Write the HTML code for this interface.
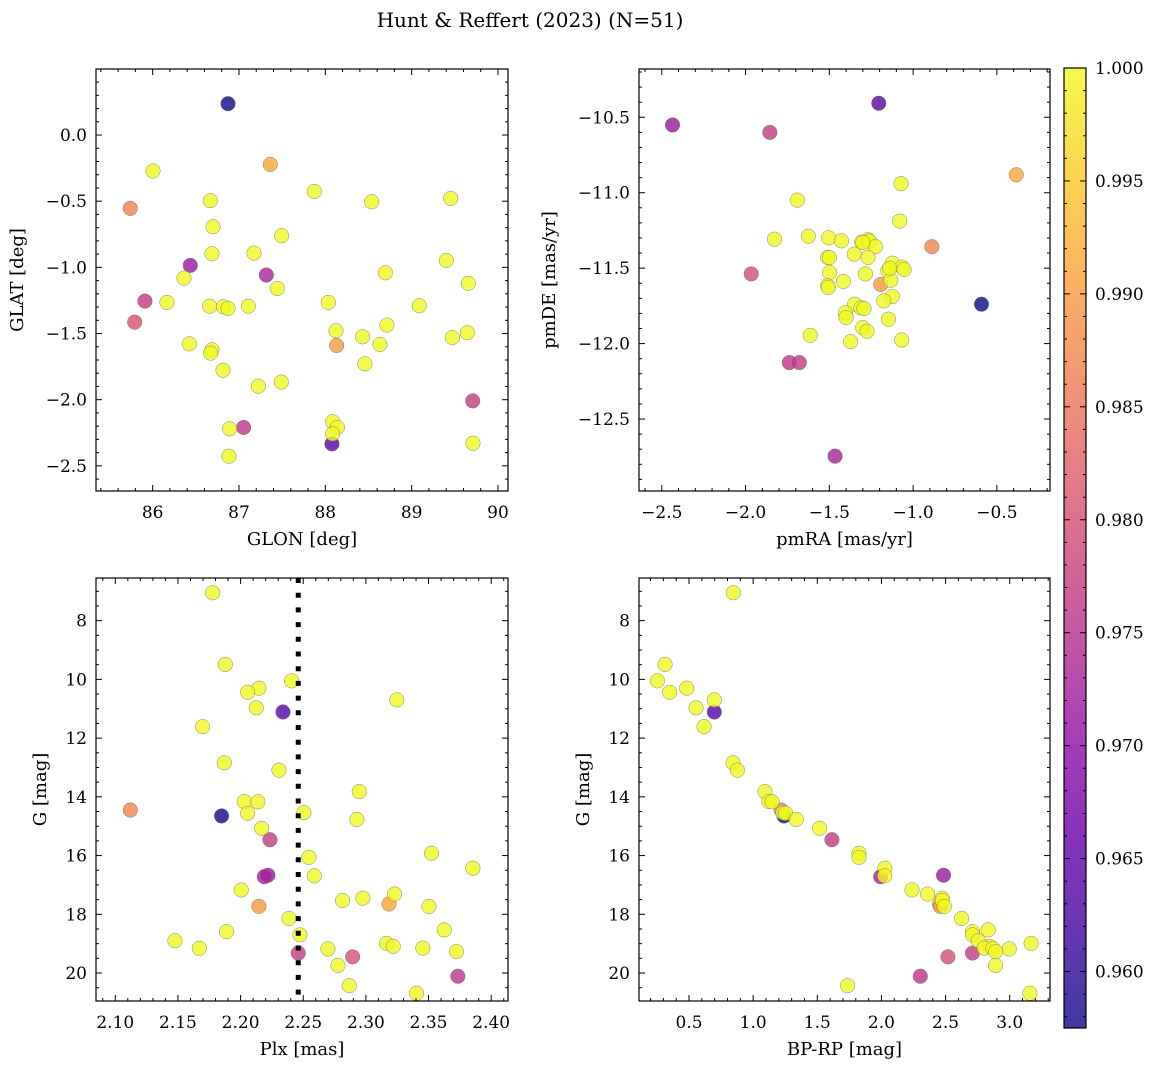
<!DOCTYPE html>
<html><head><meta charset="utf-8"><style>
html,body{margin:0;padding:0;background:#fff;}
svg{display:block;font-family:"DejaVu Serif","Liberation Serif",serif;}
</style></head><body>
<svg id="fig" width="1161" height="1068" viewBox="0 0 1161 1068" xmlns="http://www.w3.org/2000/svg">
<defs>
<linearGradient id="plasma" x1="0" y1="1" x2="0" y2="0">
<stop offset="0" stop-color="#0d0887"/><stop offset="0.1" stop-color="#41049d"/><stop offset="0.2" stop-color="#6a00a8"/><stop offset="0.3" stop-color="#8f0da4"/><stop offset="0.4" stop-color="#b12a90"/><stop offset="0.5" stop-color="#cc4778"/><stop offset="0.6" stop-color="#e16462"/><stop offset="0.7" stop-color="#f2844b"/><stop offset="0.8" stop-color="#fca636"/><stop offset="0.9" stop-color="#fcce25"/><stop offset="1" stop-color="#f0f921"/>
</linearGradient>
</defs>
<text x="530" y="27" font-size="20" text-anchor="middle">Hunt &amp; Reffert (2023) (N=51)</text>
</svg>
<script>
// per-star data
const prob = [0.9575,0.964,0.9715,0.973,0.977,0.980,0.976,0.977,0.9915,0.987,0.990,
 1,1,1,1,1,1,1,1,1,1,1,1,1,1,1,1,1,1,1,1,1,1,1,1,1,1,1,1,1,1,1,1,1,1,1,1,1,1,1,1];
const glon = [86.873,88.077,86.436,87.317,85.911,85.792,87.054,89.707,87.363,85.741,88.131,
 86.004,87.873,88.537,89.452,86.668,86.699,87.494,86.687,87.174,89.402,88.695,86.363,87.444,89.656,86.166,86.660,86.819,86.873,87.108,88.035,89.089,88.124,88.714,88.432,89.645,89.471,88.633,86.425,86.687,86.672,88.459,86.815,87.224,87.490,88.085,88.139,88.085,86.892,89.710,86.884];
const glat = [0.237,-2.334,-0.985,-1.058,-1.255,-1.414,-2.210,-2.009,-0.222,-0.554,-1.590,
 -0.272,-0.426,-0.504,-0.479,-0.496,-0.693,-0.761,-0.897,-0.892,-0.948,-1.041,-1.081,-1.159,-1.121,-1.265,-1.293,-1.298,-1.310,-1.293,-1.265,-1.290,-1.479,-1.436,-1.525,-1.494,-1.530,-1.583,-1.578,-1.623,-1.648,-1.729,-1.777,-1.898,-1.867,-2.167,-2.210,-2.258,-2.220,-2.329,-2.427];
const pmra = [-0.592,-1.205,-2.436,-1.466,-1.855,-1.966,-1.739,-1.679,-0.384,-0.888,-1.193,
 -1.072,-1.691,-1.080,-1.827,-1.625,-1.504,-1.428,-1.307,-1.269,-1.261,-1.225,-1.351,-1.269,-1.510,-1.124,-1.151,-1.066,-1.054,-1.498,-1.285,-1.133,-1.416,-1.510,-1.506,-1.124,-1.175,-1.349,-1.311,-1.293,-1.404,-1.400,-1.147,-1.301,-1.275,-1.614,-1.373,-1.068,-1.30,-1.50,-1.14];
const pmde = [-11.739,-10.407,-10.551,-12.746,-10.600,-11.538,-12.126,-12.126,-10.881,-11.358,-11.608,
 -10.940,-11.049,-11.188,-11.308,-11.288,-11.299,-11.319,-11.327,-11.312,-11.321,-11.358,-11.407,-11.429,-11.429,-11.467,-11.515,-11.493,-11.509,-11.529,-11.538,-11.580,-11.588,-11.617,-11.628,-11.688,-11.717,-11.739,-11.763,-11.768,-11.796,-11.827,-11.838,-11.894,-11.918,-11.945,-11.987,-11.976,-11.33,-11.43,-11.50];
const plx = [2.1848,2.2338,2.2218,2.2189,2.2234,2.2894,2.3734,2.2460,2.3184,2.1120,2.2146,
 2.1777,2.1878,2.2407,2.2146,2.2056,2.3247,2.2125,2.1697,2.1870,2.2306,2.2947,2.2029,2.2138,2.2505,2.2056,2.2928,2.2168,2.3524,2.2545,2.3854,2.2588,2.2005,2.3229,2.2976,2.2814,2.3503,2.2386,2.3625,2.1888,2.2473,2.1476,2.3165,2.3218,2.3455,2.1670,2.2697,2.3723,2.2777,2.2867,2.3404];
const gmag = [14.65,11.11,16.67,16.72,15.46,19.45,20.11,19.32,17.65,14.45,17.73,
 7.05,9.49,10.05,10.30,10.44,10.70,10.97,11.61,12.84,13.09,13.82,14.16,14.17,14.54,14.56,14.77,15.07,15.92,16.06,16.43,16.69,17.17,17.31,17.45,17.53,17.73,18.14,18.53,18.59,18.70,18.90,18.99,19.09,19.15,19.16,19.18,19.27,19.74,20.43,20.69];
const bprp = [1.240,0.697,2.484,1.994,1.614,2.518,2.303,2.710,2.453,1.219,2.46,
 0.845,0.313,0.253,0.482,0.349,0.697,0.555,0.617,0.843,0.877,1.092,1.123,1.148,1.232,1.253,1.336,1.518,1.825,1.825,2.027,2.025,2.238,2.360,2.474,2.474,2.490,2.625,2.832,2.710,2.710,2.755,3.167,2.843,2.801,2.869,2.996,2.890,2.890,1.736,3.157];
const plxMean = [2.246];
const cbTicks = [0.960,0.965,0.970,0.975,0.980,0.985,0.990,0.995,1.000];
const vmin = 0.9575, vmax = 1.0;

const NS = "http://www.w3.org/2000/svg";
const svg = document.getElementById('fig');
function mk(tag, attrs, parent){const e=document.createElementNS(NS,tag);for(const k in attrs)e.setAttribute(k,attrs[k]);(parent||svg).appendChild(e);return e;}
const stops=[[13,8,135],[65,4,157],[106,0,168],[143,13,164],[177,42,144],[204,71,120],[225,100,98],[242,132,75],[252,166,54],[252,206,37],[240,249,33]];
function plasma(v){let t=(v-vmin)/(vmax-vmin);t=Math.max(0,Math.min(1,t))*10;const i=Math.min(9,Math.floor(t)),f=t-i;const a=stops[i],b=stops[i+1];return `rgb(${Math.round(a[0]+(b[0]-a[0])*f)},${Math.round(a[1]+(b[1]-a[1])*f)},${Math.round(a[2]+(b[2]-a[2])*f)})`;}
function fmt(v,d){return (v<0?'\u2212':'')+Math.abs(v).toFixed(d);}

function panel(o){
  const g=mk('g',{});
  
  
  const sx=v=>o.x0+(v-o.xd[0])/(o.xd[1]-o.xd[0])*(o.x1-o.x0);
  const sy=v=>o.y0+(v-o.yd[0])/(o.yd[1]-o.yd[0])*(o.y1-o.y0);
  for(let i=0;i<o.xs.length;i++){
    const c=mk('circle',{cx:sx(o.xs[i]),cy:sy(o.ys[i]),r:7.3,fill:plasma(prob[i]),'fill-opacity':0.8,stroke:'#666','stroke-width':0.5,'stroke-opacity':0.8},g);
    
    
  }
  if(o.vline){const l=mk('line',{x1:sx(o.vline),x2:sx(o.vline),y1:o.y0,y2:o.y1,stroke:'#000','stroke-width':5,'stroke-dasharray':'5 9.7'},g);
    
    }
  const f=mk('rect',{x:o.x0,y:o.y0,width:o.x1-o.x0,height:o.y1-o.y0,fill:'none',stroke:'#000','stroke-width':1.2},g);
  
  
  const lo=Math.min(o.xd[0],o.xd[1]),hi=Math.max(o.xd[0],o.xd[1]);
  for(let k=Math.ceil(lo/o.xminor-1e-6);k*o.xminor<=hi+1e-9;k++){
    const v=k*o.xminor,X=sx(v),maj=Math.abs(v/o.xmajor-Math.round(v/o.xmajor))<1e-6,L=maj?6:3;
    mk('line',{x1:X,x2:X,y1:o.y1,y2:o.y1-L,stroke:'#000','stroke-width':1},g);
    mk('line',{x1:X,x2:X,y1:o.y0,y2:o.y0+L,stroke:'#000','stroke-width':1},g);
    if(maj){const t=mk('text',{x:X,y:o.y1+27,'font-size':17,'text-anchor':'middle'},g);t.textContent=fmt(v,o.xdec);
      
      }
  }
  const ylo=Math.min(o.yd[0],o.yd[1]),yhi=Math.max(o.yd[0],o.yd[1]);
  for(let k=Math.ceil(ylo/o.yminor-1e-6);k*o.yminor<=yhi+1e-9;k++){
    const v=k*o.yminor,Y=sy(v),maj=Math.abs(v/o.ymajor-Math.round(v/o.ymajor))<1e-6,L=maj?6:3;
    mk('line',{x1:o.x0,x2:o.x0+L,y1:Y,y2:Y,stroke:'#000','stroke-width':1},g);
    mk('line',{x1:o.x1,x2:o.x1-L,y1:Y,y2:Y,stroke:'#000','stroke-width':1},g);
    if(maj){const t=mk('text',{x:o.x0-9,y:Y+6,'font-size':17,'text-anchor':'end'},g);t.textContent=fmt(v,o.ydec);
      
      }
  }
  const xl=mk('text',{x:(o.x0+o.x1)/2,y:o.y1+54,'font-size':18,'text-anchor':'middle'},g);xl.textContent=o.xlabel;
  
  
  const cy=(o.y0+o.y1)/2;
  const yl=mk('text',{x:o.ylx,y:cy,'font-size':18,'text-anchor':'middle',transform:`rotate(-90 ${o.ylx} ${cy})`},g);yl.textContent=o.ylabel;
  
  
}
panel({name:'glon-glat-panel',x0:96,x1:508,y0:69,y1:491,xd:[85.344,90.116],yd:[0.499,-2.69],xs:glon,ys:glat,xmajor:1,xminor:0.2,ymajor:0.5,yminor:0.1,xdec:0,ydec:1,xlabel:'GLON [deg]',ylabel:'GLAT [deg]',ylx:23});
panel({name:'proper-motion-panel',x0:639,x1:1050,y0:69,y1:491,xd:[-2.636,-0.183],yd:[-10.18,-12.977],xs:pmra,ys:pmde,xmajor:0.5,xminor:0.1,ymajor:0.5,yminor:0.1,xdec:1,ydec:1,xlabel:'pmRA [mas/yr]',ylabel:'pmDE [mas/yr]',ylx:555});
panel({name:'parallax-panel',x0:96,x1:508,y0:578,y1:1001,xd:[2.0846,2.4134],yd:[6.547,20.953],xs:plx,ys:gmag,xmajor:0.05,xminor:0.01,ymajor:2,yminor:0.5,xdec:2,ydec:0,xlabel:'Plx [mas]',ylabel:'G [mag]',ylx:46,vline:plxMean[0]});
panel({name:'cmd-panel',x0:639,x1:1050,y0:578,y1:1001,xd:[0.110,3.314],yd:[6.547,20.953],xs:bprp,ys:gmag,xmajor:0.5,xminor:0.1,ymajor:2,yminor:0.5,xdec:1,ydec:0,xlabel:'BP-RP [mag]',ylabel:'G [mag]',ylx:589});

const cb=mk('g',{});


const cbx=1064,cbw=22,cby0=68,cby1=1028;
mk('rect',{x:cbx,y:cby0,width:cbw,height:cby1-cby0,fill:'url(#plasma)','fill-opacity':0.8},cb);
mk('rect',{x:cbx,y:cby0,width:cbw,height:cby1-cby0,fill:'none',stroke:'#000','stroke-width':1.2},cb);
const cyv=v=>cby1-(v-vmin)/(vmax-vmin)*(cby1-cby0);
for(let k=958;k<=1000;k++){const v=k/1000,Y=cyv(v);const maj=k%5===0,L=maj?6:3;
  mk('line',{x1:cbx,x2:cbx+L,y1:Y,y2:Y,stroke:'#000','stroke-width':1},cb);
  mk('line',{x1:cbx+cbw,x2:cbx+cbw-L,y1:Y,y2:Y,stroke:'#000','stroke-width':1},cb);}
cbTicks.forEach(v=>{const t=mk('text',{x:cbx+cbw+9,y:cyv(v)+6,'font-size':17},cb);t.textContent=v.toFixed(3);
  
  });
</script>
</body></html>
